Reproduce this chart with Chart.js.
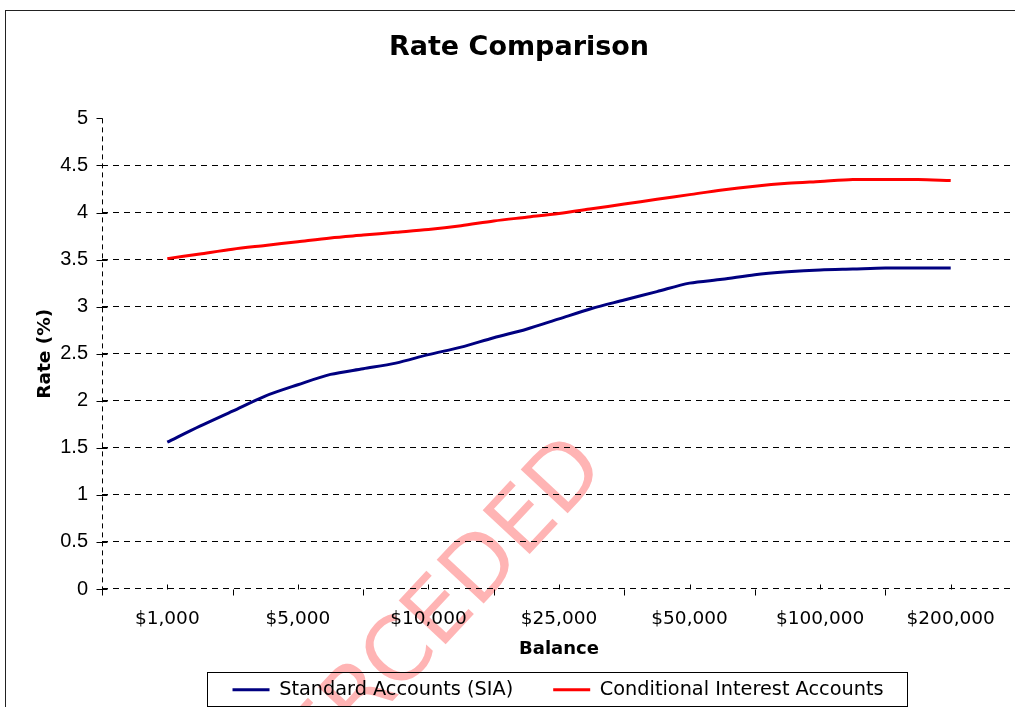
<!DOCTYPE html>
<html>
<head>
<meta charset="utf-8">
<script src="https://cdn.jsdelivr.net/npm/chart.js@4.4.1/dist/chart.umd.min.js"></script>
<style>
html,body{margin:0;padding:0;background:#fff;overflow:hidden;width:1015px;height:707px;}
canvas{position:absolute;left:0;top:0;}
</style>
</head>
<body>
<canvas id="c" width="1062" height="760" style="width:1062px;height:760px"></canvas>
<script>
// ---- data ----
const balanceLabels = ['$1,000', '$5,000', '$10,000', '$25,000', '$50,000', '$100,000', '$200,000'];
const stepsPerLabel = 4; // curve samples between two labelled balances
const standardRates = [1.56, 1.73, 1.89, 2.05, 2.17, 2.28, 2.34, 2.40, 2.49, 2.57, 2.67, 2.76, 2.87,
                       2.98, 3.07, 3.16, 3.25, 3.29, 3.34, 3.37, 3.39, 3.40, 3.41, 3.41, 3.41];
const conditionalRates = [3.51, 3.56, 3.61, 3.65, 3.69, 3.73, 3.76, 3.79, 3.82, 3.86, 3.91, 3.95, 3.99,
                          4.04, 4.09, 4.14, 4.19, 4.24, 4.28, 4.31, 4.33, 4.35, 4.35, 4.35, 4.34];
const seriesNames = ['Standard Accounts (SIA)', 'Conditional Interest Accounts'];
const rateMin = 0, rateMax = 5, rateStep = 0.5;

const toPoints = arr => arr.map((v, i) => ({x: i, y: v}));
const half = stepsPerLabel / 2;
const xMin = -half;
const xMax = (balanceLabels.length - 1) * stepsPerLabel + half;

const FONT = "'DejaVu Sans', Verdana, sans-serif";

const decor = {
  id: 'decor',
  beforeDraw(chart) {
    const ctx = chart.ctx;
    ctx.save();
    ctx.fillStyle = '#fff';
    ctx.fillRect(0, 0, chart.width, chart.height);
    // watermark
    ctx.translate(608, 470);
    ctx.rotate(-47 * Math.PI / 180);
    ctx.font = "88px " + FONT;
    ctx.fillStyle = '#ffb4b4';
    ctx.textAlign = 'right';
    ctx.textBaseline = 'alphabetic';
    ctx.fillText('SUPERCEDED', 0, 0);
    ctx.restore();
    // legend placement inside its framed box
    const lg = chart.legend;
    const h = lg.bottom - lg.top;
    lg.left = 102; lg.right = 1014; lg.top = 640; lg.bottom = lg.top + h;
  },
  afterDraw(chart) {
    const ctx = chart.ctx;
    const xs = chart.scales.x, ys = chart.scales.y;
    const ax = Math.round(xs.getPixelForValue(xMin)) + 0.5;
    const ay = Math.round(ys.getPixelForValue(rateMin)) + 0.5;
    ctx.save();
    ctx.strokeStyle = '#000';
    ctx.lineWidth = 1;
    ctx.beginPath();
    ys.ticks.forEach(t => {
      const py = Math.round(ys.getPixelForValue(t.value)) + 0.5;
      ctx.moveTo(ax - 6, py);
      ctx.lineTo(t.value === rateMax ? ax : ax + 5, py);
    });
    for (let v = xMin; v <= xMax; v += stepsPerLabel) {
      const px = Math.round(xs.getPixelForValue(v)) + 0.5;
      ctx.moveTo(px, ay); ctx.lineTo(px, ay + 6);
    }
    for (let i = 0; i < balanceLabels.length; i++) {
      const px = Math.round(xs.getPixelForValue(i * stepsPerLabel)) + 0.5;
      ctx.moveTo(px, ay); ctx.lineTo(px, ay - 5);
    }
    ctx.stroke();
    // chart frame
    ctx.strokeStyle = '#222';
    ctx.strokeRect(5.5, 10.5, 1200, 1000);
    // legend frame
    ctx.strokeStyle = '#000';
    ctx.strokeRect(207.5, 672.5, 700, 34);
    ctx.restore();
  }
};

new Chart(document.getElementById('c'), {
  type: 'line',
  data: {
    datasets: [
      {label: seriesNames[0], data: toPoints(standardRates), borderColor: '#000080', backgroundColor: '#000080',
       borderWidth: 3, pointRadius: 0, tension: 0.3, fill: false},
      {label: seriesNames[1], data: toPoints(conditionalRates), borderColor: '#ff0000', backgroundColor: '#ff0000',
       borderWidth: 3, pointRadius: 0, tension: 0.3, fill: false}
    ]
  },
  options: {
    responsive: false,
    animation: false,
    events: [],
    layout: {padding: {left: 22, right: 46, top: 0, bottom: 0}},
    plugins: {
      title: {display: true, text: 'Rate Comparison', color: '#000',
              font: {family: FONT, size: 27, weight: 'bold'}, padding: {top: 32, bottom: 54}},
      legend: {
        display: true, position: 'bottom',
        labels: {
          color: '#000', font: {family: FONT, size: 19.3}, boxWidth: 37, boxHeight: 3, padding: 40,
          generateLabels(chart) {
            return Chart.defaults.plugins.legend.labels.generateLabels(chart).map(l => Object.assign(l, {lineWidth: 0}));
          }
        }
      },
      tooltip: {enabled: false}
    },
    scales: {
      x: {
        type: 'linear', min: xMin, max: xMax,
        afterBuildTicks(scale) {
          const t = [{value: xMin}];
          balanceLabels.forEach((_, i) => t.push({value: i * stepsPerLabel}));
          scale.ticks = t;
        },
        afterFit(scale) { scale.height = scale.chart.height - scale.chart.legend.height - 589; },
        ticks: {
          autoSkip: false, maxRotation: 0, minRotation: 0, color: '#000', padding: 19,
          font: {family: FONT, size: 18.5},
          callback: v => (v >= 0 && v % stepsPerLabel === 0) ? balanceLabels[v / stepsPerLabel] : ''
        },
        grid: {display: true, drawOnChartArea: true, drawTicks: false, color: '#000',
               lineWidth: c => (c.tick && c.tick.value === xMin) ? 1 : 0},
        border: {display: false, dash: [5, 4]},
        title: {display: true, text: 'Balance', color: '#000', font: {family: FONT, size: 18, weight: 'bold'},
                padding: {top: 0, bottom: 31}}
      },
      y: {
        min: rateMin, max: rateMax,
        afterFit(scale) { scale.width = 80; },
        ticks: {stepSize: rateStep, color: '#000', padding: 14,
                font: {family: "'Liberation Sans', Arial, sans-serif", size: 20},
                callback: v => String(Math.round(v * 10) / 10)},
        grid: {drawTicks: false, color: '#000', lineWidth: c => (c.tick && c.tick.value === rateMax) ? 0 : 1},
        border: {display: false, dash: [6, 5]},
        title: {display: true, text: 'Rate (%)', color: '#000', font: {family: FONT, size: 18.5, weight: 'bold'},
                padding: {top: 12, bottom: 0}}
      }
    }
  },
  plugins: [decor]
});
</script>
</body>
</html>
